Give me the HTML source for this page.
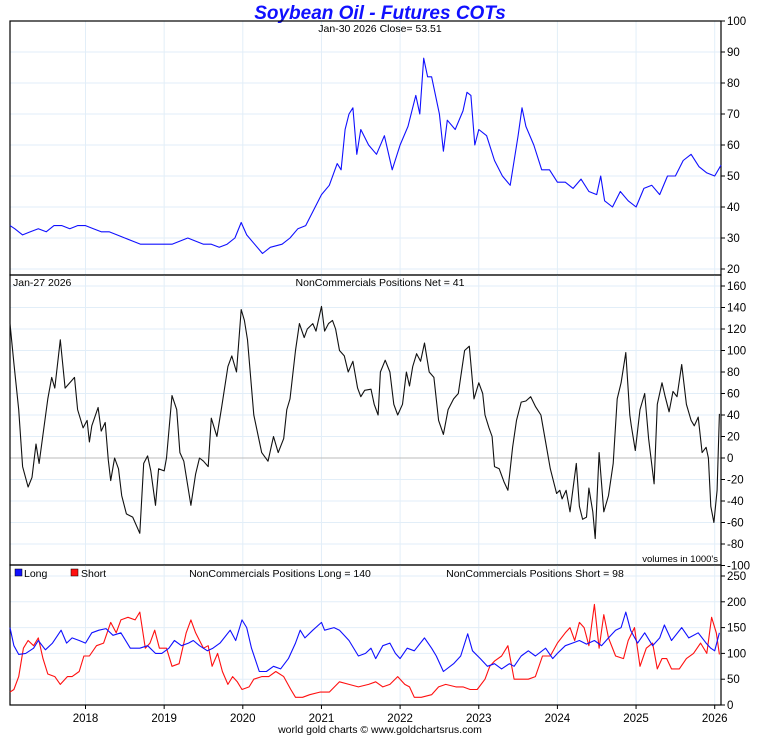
<!DOCTYPE html>
<html><head><meta charset="utf-8"><style>
html,body{margin:0;padding:0;background:#fff;}
svg{display:block;font-family:"Liberation Sans",sans-serif;}
</style></head><body>
<svg id="chart" width="760" height="735">
<text x="380" y="19" text-anchor="middle" font-size="19" font-weight="bold" font-style="italic" fill="#1010ff">Soybean Oil - Futures COTs</text>
</svg>
<script>
const years=[2018,2019,2020,2021,2022,2023,2024,2025,2026];
const priceTicks=[20,30,40,50,60,70,80,90,100];
const netTicks=[-100,-80,-60,-40,-20,0,20,40,60,80,100,120,140,160];
const posTicks=[0,50,100,150,200,250];
const priceDates=[2017.04,2017.1,2017.2,2017.3,2017.4,2017.5,2017.6,2017.7,2017.8,2017.9,2018.0,2018.1,2018.2,2018.3,2018.4,2018.5,2018.6,2018.7,2018.8,2018.9,2019.0,2019.1,2019.2,2019.3,2019.4,2019.5,2019.6,2019.7,2019.8,2019.9,2019.98,2020.05,2020.15,2020.25,2020.35,2020.5,2020.6,2020.7,2020.8,2020.9,2021.0,2021.1,2021.2,2021.25,2021.3,2021.35,2021.4,2021.45,2021.5,2021.6,2021.7,2021.8,2021.9,2022.0,2022.1,2022.2,2022.25,2022.3,2022.35,2022.4,2022.5,2022.55,2022.6,2022.7,2022.8,2022.85,2022.9,2022.95,2023.0,2023.1,2023.2,2023.3,2023.4,2023.5,2023.55,2023.6,2023.7,2023.8,2023.9,2024.0,2024.1,2024.2,2024.3,2024.4,2024.5,2024.55,2024.6,2024.7,2024.8,2024.9,2025.0,2025.1,2025.2,2025.3,2025.4,2025.5,2025.6,2025.7,2025.8,2025.9,2026.0,2026.08];
const priceVals=[34,33,31,32,33,32,34,34,33,34,34,33,32,32,31,30,29,28,28,28,28,28,29,30,29,28,28,27,28,30,35,31,28,25,27,28,30,33,34,39,44,47,54,52,65,70,72,57,65,60,57,63,52,60,66,76,70,88,82,82,70,58,68,65,71,77,76,60,65,63,55,50,47,63,72,66,60,52,52,48,48,46,49,45,44,50,42,40,45,42,40,46,47,44,50,50,55,57,53,51,50,53.5];
const netDates=[2017.04,2017.09,2017.15,2017.20,2017.27,2017.32,2017.37,2017.41,2017.46,2017.52,2017.57,2017.61,2017.68,2017.74,2017.80,2017.86,2017.90,2017.97,2018.02,2018.05,2018.08,2018.16,2018.20,2018.25,2018.29,2018.32,2018.37,2018.42,2018.46,2018.52,2018.60,2018.69,2018.74,2018.79,2018.83,2018.89,2018.93,2019.00,2019.03,2019.10,2019.16,2019.20,2019.25,2019.34,2019.40,2019.45,2019.50,2019.56,2019.60,2019.67,2019.73,2019.81,2019.86,2019.92,2019.98,2020.02,2020.06,2020.14,2020.24,2020.32,2020.39,2020.45,2020.52,2020.56,2020.60,2020.67,2020.72,2020.78,2020.82,2020.89,2020.93,2021.00,2021.04,2021.09,2021.14,2021.18,2021.23,2021.29,2021.34,2021.40,2021.46,2021.50,2021.55,2021.63,2021.67,2021.72,2021.75,2021.81,2021.87,2021.92,2021.97,2022.03,2022.08,2022.12,2022.16,2022.21,2022.26,2022.31,2022.37,2022.43,2022.49,2022.55,2022.61,2022.68,2022.74,2022.82,2022.88,2022.94,2023.00,2023.05,2023.08,2023.13,2023.17,2023.20,2023.26,2023.32,2023.37,2023.43,2023.48,2023.54,2023.60,2023.66,2023.72,2023.79,2023.85,2023.91,2023.99,2024.03,2024.06,2024.11,2024.16,2024.24,2024.28,2024.32,2024.37,2024.40,2024.45,2024.48,2024.53,2024.59,2024.65,2024.71,2024.76,2024.81,2024.87,2024.92,2024.94,2024.99,2025.05,2025.11,2025.16,2025.23,2025.27,2025.33,2025.37,2025.42,2025.47,2025.52,2025.58,2025.64,2025.70,2025.74,2025.79,2025.84,2025.89,2025.92,2025.95,2025.99,2026.03,2026.06];
const netVals=[125,88,45,-8,-27,-18,13,-5,22,55,75,65,110,65,70,75,45,28,35,15,30,47,25,33,-2,-21,0,-10,-35,-52,-55,-70,-5,2,-12,-44,-10,-12,0,58,45,5,-3,-44,-15,0,-3,-8,37,20,47,85,95,80,138,128,110,40,5,-3,20,5,18,45,55,100,125,112,120,125,118,141,118,125,128,120,100,95,80,90,65,57,63,64,50,40,80,91,80,50,40,50,80,67,85,97,90,107,80,75,35,22,45,55,60,100,104,55,70,60,40,28,20,-8,-10,-22,-30,10,35,52,53,57,48,40,15,-10,-33,-30,-38,-30,-50,-5,-45,-57,-55,-28,-50,-75,5,-50,-35,-5,55,70,98,40,30,7,45,60,18,-24,50,70,57,43,62,57,87,50,35,30,38,5,10,0,-45,-60,-30,41];
const longDates=[2017.04,2017.09,2017.15,2017.24,2017.34,2017.40,2017.49,2017.58,2017.69,2017.76,2017.83,2017.92,2018.00,2018.08,2018.17,2018.26,2018.35,2018.45,2018.57,2018.69,2018.79,2018.89,2018.97,2019.06,2019.13,2019.22,2019.31,2019.37,2019.45,2019.55,2019.62,2019.71,2019.84,2019.91,2019.99,2020.05,2020.11,2020.21,2020.30,2020.39,2020.48,2020.58,2020.67,2020.73,2020.79,2020.89,2021.00,2021.04,2021.16,2021.23,2021.35,2021.47,2021.56,2021.63,2021.69,2021.78,2021.87,2021.94,2022.00,2022.09,2022.18,2022.31,2022.40,2022.46,2022.55,2022.68,2022.77,2022.86,2022.92,2023.02,2023.11,2023.20,2023.29,2023.39,2023.45,2023.54,2023.63,2023.72,2023.85,2023.94,2024.00,2024.10,2024.19,2024.28,2024.37,2024.47,2024.56,2024.65,2024.74,2024.81,2024.87,2024.93,2025.02,2025.11,2025.21,2025.30,2025.36,2025.45,2025.58,2025.67,2025.79,2025.89,2025.95,2026.00,2026.06];
const longVals=[150,115,98,100,110,125,107,120,145,120,130,125,120,140,145,148,135,140,110,110,115,100,100,110,125,115,120,125,115,105,110,120,145,125,165,150,110,65,65,75,70,90,120,145,130,145,160,145,150,145,125,95,100,110,90,115,120,100,90,110,105,130,110,95,65,80,95,138,105,90,75,80,70,80,75,95,105,95,110,90,100,115,120,125,118,125,115,130,145,150,180,145,120,140,115,130,155,125,150,130,140,120,110,105,140];
const shortDates=[2017.04,2017.09,2017.15,2017.21,2017.27,2017.34,2017.40,2017.46,2017.52,2017.61,2017.68,2017.77,2017.83,2017.92,2017.98,2018.05,2018.14,2018.23,2018.32,2018.39,2018.45,2018.54,2018.63,2018.69,2018.76,2018.82,2018.88,2018.94,2019.03,2019.10,2019.19,2019.28,2019.34,2019.40,2019.50,2019.56,2019.61,2019.68,2019.74,2019.81,2019.87,2019.93,2019.99,2020.08,2020.14,2020.24,2020.33,2020.42,2020.52,2020.61,2020.67,2020.76,2020.85,2020.98,2021.10,2021.23,2021.35,2021.47,2021.60,2021.69,2021.78,2021.87,2021.97,2022.06,2022.12,2022.18,2022.27,2022.40,2022.49,2022.58,2022.71,2022.80,2022.89,2022.98,2023.08,2023.14,2023.20,2023.29,2023.37,2023.45,2023.54,2023.63,2023.72,2023.81,2023.91,2024.00,2024.10,2024.16,2024.22,2024.28,2024.34,2024.40,2024.47,2024.53,2024.59,2024.65,2024.74,2024.84,2024.90,2024.98,2025.05,2025.13,2025.21,2025.27,2025.33,2025.39,2025.45,2025.55,2025.64,2025.73,2025.82,2025.90,2025.96,2026.02,2026.06];
const shortVals=[25,30,55,110,125,115,130,90,60,55,40,55,55,65,95,95,115,120,160,140,165,170,165,180,110,120,145,110,110,75,80,140,165,140,110,115,75,100,65,40,55,45,30,35,50,55,55,65,55,30,15,15,20,25,25,45,40,35,40,45,35,40,55,40,35,15,15,20,35,40,35,35,30,30,50,75,85,95,115,50,50,50,55,95,95,120,140,150,125,160,150,115,195,110,175,130,95,90,125,150,75,110,120,70,90,90,70,70,90,100,120,100,170,140,98];

const NS='http://www.w3.org/2000/svg';
const svg=document.getElementById('chart');
const L=10,R=721;
const X=t=>L+(t-2017.04)/(2026.08-2017.04)*(R-L);
const panels=[
 {name:'price',top:21,bot:275,y:v=>21+(100-v)*3.1,ticks:priceTicks},
 {name:'net',top:275,bot:565,y:v=>458-v*1.075,ticks:netTicks},
 {name:'positions',top:565,bot:705,y:v=>705-v*0.516,ticks:posTicks}
];
function mk(tag,attrs,parent){const e=document.createElementNS(NS,tag);for(const k in attrs)e.setAttribute(k,attrs[k]);(parent||svg).appendChild(e);return e;}
function txt(x,y,s,size,anchor,fill){const e=mk('text',{x:x,y:y,'font-size':size,'text-anchor':anchor||'start',fill:fill||'#000'});e.textContent=s;return e;}
panels.forEach(p=>{
 const g=mk('g',{});
 
 
 years.forEach(yr=>{const l=mk('line',{x1:X(yr),x2:X(yr),y1:p.top,y2:p.bot,stroke:'#e2eef8','stroke-width':1},g);
  });
 p.ticks.forEach(v=>{const yy=p.y(v);
  if(yy>p.top+1&&yy<p.bot-1){const l=mk('line',{x1:L,x2:R,y1:yy,y2:yy,stroke:(p.name==='net'&&v===0)?'#bbbbbb':'#e2eef8','stroke-width':1},g);
   }
  const tk=mk('line',{x1:R,x2:R+4,y1:yy,y2:yy,stroke:'#000'},g);
  
  const t=txt(R+6,yy+4,String(v),11.5);
  
 });
 const r=mk('rect',{x:L,y:p.top,width:R-L,height:p.bot-p.top,fill:'none',stroke:'#000','stroke-width':1.2},g);
 
});
function line(dates,vals,p,color,name){
 const d=dates.map((t,i)=>(i?'L':'M')+X(t).toFixed(1)+','+p.y(vals[i]).toFixed(1)).join('');
 const e=mk('path',{d:d,fill:'none',stroke:color,'stroke-width':1.1,'stroke-linejoin':'round'});
 
 
}
line(priceDates,priceVals,panels[0],'#1010ff','price-line');
line(netDates,netVals,panels[1],'#111','net-position-line');
line(shortDates,shortVals,panels[2],'#ff1010','short-line');
line(longDates,longVals,panels[2],'#1010ff','long-line');
years.forEach(yr=>{
 const tk=mk('line',{x1:X(yr),x2:X(yr),y1:705,y2:709,stroke:'#000'});
 
 const t=txt(X(yr),722,String(yr),11.5,'middle');
 
});
const labels=[
 [380,32,'Jan-30  2026   Close= 53.51','middle','price-subtitle'],
 [13,286,'Jan-27  2026','start','net-date-label'],
 [380,286,'NonCommercials Positions Net = 41','middle','net-subtitle'],
 [718,562,"volumes in 1000's",'end','volumes-note'],
 [280,577,'NonCommercials Positions Long = 140','middle','long-subtitle'],
 [535,577,'NonCommercials Positions Short = 98','middle','short-subtitle'],
 [24,577,'Long','start','legend-long-label'],
 [81,577,'Short','start','legend-short-label'],
 [380,733,'world gold charts © www.goldchartsrus.com','middle','footer-credit']
];
labels.forEach(a=>{const t=txt(a[0],a[1],a[2],a[4]==='volumes-note'?9.5:10.5,a[3]);
 });
const s1=mk('rect',{x:15,y:569,width:7,height:7,fill:'#1010ff',stroke:'#000','stroke-width':0.5});

const s2=mk('rect',{x:71,y:569,width:7,height:7,fill:'#ff1010',stroke:'#000','stroke-width':0.5});

</script>
</body></html>
